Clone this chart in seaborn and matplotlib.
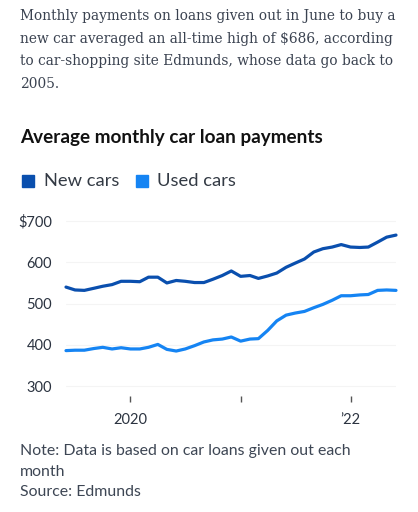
import numpy as np
import pandas as pd
import seaborn as sns
import matplotlib.pyplot as plt
import matplotlib.dates as mdates

# monthly values, Jun 2019 - Jun 2022
months = pd.date_range("2019-06-01", "2022-06-01", freq="MS")
new_cars = [540, 533, 532, 537, 542, 546, 554, 554, 553, 564, 564, 550, 556,
            554, 551, 551, 559, 568, 579, 566, 568, 561, 567, 574, 588, 598,
            608, 625, 633, 637, 643, 637, 636, 637, 649, 661, 666]
used_cars = [386, 387, 387, 391, 394, 390, 393, 390, 390, 394, 401, 389, 385,
             390, 398, 407, 412, 414, 419, 409, 414, 415, 435, 458, 472, 477,
             481, 490, 498, 508, 519, 519, 521, 522, 532, 533, 532]
y_ticks = [300, 400, 500, 600, 700]
y_labels = ["300", "400", "500", "600", "$700"]
x_ticks = pd.to_datetime(["2020-01-01", "2021-01-01", "2022-01-01"])
x_labels = ["2020", "", "\u201922"]

df = pd.DataFrame({"month": months, "New cars": new_cars, "Used cars": used_cars})
long = df.melt(id_vars="month", var_name="type", value_name="payment")

sns.set_style("white")
plt.rcParams["font.family"] = ["Lato", "DejaVu Sans"]

dark_blue = "#0a4fae"
light_blue = "#1584f3"
text_col = "#2b3340"

fig = plt.figure(figsize=(4.18, 5.12), dpi=100)
ax = fig.add_axes([66 / 418, 1 - 396 / 512, 330 / 418, 177 / 512])

sns.lineplot(data=long, x="month", y="payment", hue="type",
             palette={"New cars": dark_blue, "Used cars": light_blue},
             linewidth=2.3, ax=ax, legend=False)
for ln in ax.lines:
    ln.set_clip_on(False)

ax.set_xlim(months[0], months[-1])
ax.set_ylim(276, 705)
ax.set_yticks(y_ticks)
ax.set_yticklabels(y_labels)
ax.set_xticks(x_ticks)
ax.set_xticklabels(x_labels)
ax.set_xlabel("")
ax.set_ylabel("")
for s in ["top", "right", "left", "bottom"]:
    ax.spines[s].set_visible(False)
ax.grid(axis="y", color="#f4f4f4", linewidth=0.8)
ax.tick_params(axis="y", length=0, pad=10, labelsize=10.5, labelcolor=text_col)
ax.tick_params(axis="x", length=4, width=1, color="#555555", direction="out",
               pad=8, labelsize=10.5, labelcolor=text_col, bottom=True)

# intro text
intro = ("Monthly payments on loans given out in June to buy a\n"
         "new car averaged an all-time high of $686, according\n"
         "to car-shopping site Edmunds, whose data go back to\n"
         "2005.")
fig.text(20 / 418, 1 - 9 / 512, intro, family=["DejaVu Serif"],
         fontsize=9.9, color="#3a4250", va="top", linespacing=1.78)

fig.text(20 / 418, 1 - 138 / 512, "Average monthly car loan payments",
         fontsize=13.6, fontweight="bold", color="#111111", va="center")

# legend squares
fig.patches.append(plt.Rectangle((22 / 418, 1 - 187 / 512), 12 / 418, 12 / 512,
                                 transform=fig.transFigure, color=dark_blue))
fig.text(44 / 418, 1 - 181 / 512, "New cars", fontsize=13.2, color="#333a44",
         va="center")
fig.patches.append(plt.Rectangle((136 / 418, 1 - 187 / 512), 12 / 418, 12 / 512,
                                 transform=fig.transFigure, color=light_blue))
fig.text(157 / 418, 1 - 181 / 512, "Used cars", fontsize=13.2, color="#333a44",
         va="center")

note = "Note: Data is based on car loans given out each\nmonth\nSource: Edmunds"
fig.text(20 / 418, 1 - 444 / 512, note, fontsize=11.4, color="#3d4654",
         va="top", linespacing=1.6)

fig.savefig("out.png", dpi=100)
